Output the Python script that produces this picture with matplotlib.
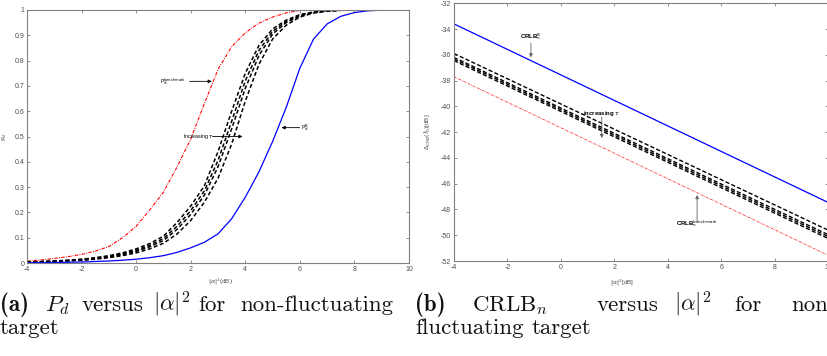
import matplotlib
matplotlib.use("Agg")
import matplotlib.pyplot as plt
from matplotlib.ticker import FuncFormatter
import numpy as np

plt.rcParams["font.family"] = ["Liberation Sans", "DejaVu Sans"]
plt.rcParams["axes.unicode_minus"] = False

# ---- (a) detection probability vs |alpha|^2 [dB] ----
snr_bench = [-4, -3.5, -3, -2.5, -2, -1.5, -1, -0.5, 0, 0.5, 1, 1.5, 2, 2.5,
             3, 3.5, 4, 4.5, 5, 5.5, 6]
pd_bench = [0.008, 0.012, 0.018, 0.025, 0.034, 0.047, 0.065, 0.10, 0.145, 0.21,
            0.28, 0.38, 0.49, 0.63, 0.765, 0.855, 0.91, 0.948, 0.972, 0.989, 0.998]

snr_tau = [-4, -3.5, -3, -2.5, -2, -1.5, -1, -0.5, 0, 0.5, 1, 1.5, 2, 2.5,
           3, 3.5, 4, 4.5, 5, 5.5, 6, 6.5, 7, 7.5]
pd_tau1 = [0.004, 0.006, 0.008, 0.011, 0.015, 0.021, 0.029, 0.040, 0.056, 0.077,
           0.106, 0.16, 0.225, 0.305, 0.44, 0.60, 0.75, 0.86, 0.925, 0.96,
           0.982, 0.992, 0.997, 0.999]
pd_tau2 = [0.004, 0.005, 0.007, 0.010, 0.014, 0.019, 0.026, 0.036, 0.050, 0.070,
           0.097, 0.145, 0.207, 0.285, 0.405, 0.56, 0.72, 0.84, 0.915, 0.955,
           0.979, 0.991, 0.997, 0.999]
pd_tau3 = [0.003, 0.005, 0.007, 0.009, 0.012, 0.017, 0.024, 0.033, 0.046, 0.064,
           0.089, 0.133, 0.192, 0.268, 0.38, 0.53, 0.69, 0.82, 0.905, 0.95,
           0.976, 0.990, 0.996, 0.999]
pd_tau4 = [0.003, 0.004, 0.006, 0.008, 0.011, 0.015, 0.021, 0.029, 0.040, 0.056,
           0.078, 0.115, 0.168, 0.24, 0.335, 0.47, 0.64, 0.785, 0.885, 0.94,
           0.972, 0.988, 0.995, 0.999]

snr_b = [-4, -3.5, -3, -2.5, -2, -1.5, -1, -0.5, 0, 0.5, 1, 1.5, 2, 2.5, 3, 3.5,
         4, 4.5, 5, 5.5, 6, 6.5, 7, 7.5, 8, 8.5, 9, 9.2]
pd_b = [0.001, 0.0015, 0.002, 0.003, 0.004, 0.006, 0.008, 0.011, 0.015, 0.021,
        0.029, 0.042, 0.06, 0.082, 0.115, 0.175, 0.26, 0.36, 0.48, 0.615, 0.77,
        0.885, 0.945, 0.975, 0.99, 0.997, 0.999, 1.0]

# ---- (b) CRLB_n vs |alpha|^2 [dB] ----
snr_crlb = [-4, 10]
crlb_b = [-33.6, -47.45]
crlb_bench = [-37.7, -51.55]
crlb_tau1 = [-35.9, -49.6]
crlb_tau2 = [-36.2, -49.95]
crlb_tau3 = [-36.32, -50.1]
crlb_tau4 = [-36.45, -50.25]

W, H = 828, 356
fig = plt.figure(figsize=(W / 100, H / 100), dpi=100)

axes_grey = "#808080"
label_grey = "#4d4d4d"


def matlab_axes(ax):
    for sp in ax.spines.values():
        sp.set_color(axes_grey)
        sp.set_linewidth(0.8)
    ax.tick_params(direction="in", top=True, right=True, length=2.5, width=0.6,
                   color=axes_grey, labelsize=5, labelcolor=label_grey, pad=2)
    ax.xaxis.set_major_formatter(FuncFormatter(lambda v, p: "%g" % v))
    ax.yaxis.set_major_formatter(FuncFormatter(lambda v, p: "%g" % v))


def arrow(ax, tail, tip, color="k"):
    ax.annotate("", xy=tip, xytext=tail,
                arrowprops=dict(arrowstyle="-|>", lw=0.6, color=color,
                                mutation_scale=5, shrinkA=0, shrinkB=0))


# left panel
ax1 = fig.add_axes([27 / W, 1 - 263 / H, (409 - 27) / W, (263 - 10) / H])
matlab_axes(ax1)
ax1.plot(snr_bench, pd_bench, color="red", lw=0.8,
         linestyle=(0, (3.0, 1.2, 0.8, 1.2)))
for pd in (pd_tau1, pd_tau2, pd_tau3, pd_tau4):
    ax1.plot(snr_tau, pd, color="k", lw=1.1, linestyle=(0, (2.6, 1.6)))
ax1.plot(snr_b, pd_b, color="#0000ff", lw=0.9)
ax1.set_xlim(-4, 10)
ax1.set_ylim(0, 1)
ax1.set_xticks(np.arange(-4, 11, 2))
ax1.set_yticks(np.arange(0, 1.01, 0.1))
ax1.set_xlabel(r"$|\alpha|^2$(dB)", fontsize=4.5, color=label_grey)
ax1.xaxis.set_label_coords(0.505, -0.055)
ax1.set_ylabel(r"$\mathrm{P_d}$", fontsize=4.5, color=label_grey)
ax1.yaxis.set_label_coords(-0.047, 0.5)

ann_font = dict(fontsize=3.8, math_fontfamily="dejavusans")
ax1.text(0.87, 0.716, r"$\mathrm{P}_\mathrm{d}^\mathrm{benchmark}$",
         ha="left", va="center", **ann_font)
arrow(ax1, (1.96, 0.718), (2.77, 0.718))
ax1.text(1.70, 0.50, r"Increasing $\tau$", ha="left", va="center", **ann_font)
arrow(ax1, (2.80, 0.50), (3.90, 0.50))
ax1.text(6.03, 0.535, r"$\mathrm{P}_\mathrm{d}^\mathrm{B}$",
         ha="left", va="center", **ann_font)
arrow(ax1, (5.99, 0.535), (5.33, 0.535))

# right panel
ax2 = fig.add_axes([454 / W, 1 - 261 / H, (828 - 454) / W, (261 - 3.3) / H])
matlab_axes(ax2)
ax2.plot(snr_crlb, crlb_b, color="#0000ff", lw=0.9)
for c in (crlb_tau1, crlb_tau2, crlb_tau3, crlb_tau4):
    ax2.plot(snr_crlb, c, color="k", lw=1.0, linestyle=(0, (3.0, 1.6)))
ax2.plot(snr_crlb, crlb_bench, color="#ff3030", lw=0.6,
         linestyle=(0, (3.0, 1.2, 0.8, 1.2)))
ax2.set_xlim(-4, 10)
ax2.set_ylim(-52, -32)
ax2.set_xticks(np.arange(-4, 11, 2))
ax2.set_yticks(np.arange(-52, -31, 2))
ax2.set_xlabel(r"$|\alpha|^2$[dB]", fontsize=4.5, color=label_grey)
ax2.xaxis.set_label_coords(0.45, -0.066)
ax2.set_ylabel(r"$\Delta_{CRB}(\hat{f}_0)$[dB]", fontsize=4.5, color=label_grey)
ax2.yaxis.set_label_coords(-0.056, 0.5)

ann_bold = dict(fontsize=4.3, math_fontfamily="dejavusans", fontweight="bold")
ax2.text(-1.15, -34.62, r"CRLB$_\mathrm{n}^\mathrm{B}$", ha="center",
         va="center", **ann_bold)
arrow(ax2, (-1.12, -35.1), (-1.12, -36.2), color="#606060")
ax2.text(1.54, -40.52, r"increasing $\tau$", ha="center", va="center", **ann_bold)
arrow(ax2, (1.53, -40.83), (1.53, -42.46), color="#606060")
ax2.text(5.10, -49.13, r"CRLB$_\mathrm{n}^\mathrm{benchmark}$", ha="center",
         va="center", **ann_bold)
arrow(ax2, (5.10, -48.95), (5.10, -46.88), color="#606060")

# sub-figure captions, word by word (justified lines)
cap = dict(fontsize=16.5, fontfamily="cmr10", math_fontfamily="cm",
           va="baseline", ha="left", color="#111111")
cap_bold = dict(cap, fontfamily="cmb10")


def caption_line(words, y_px):
    for text, x_px, bold in words:
        fig.text(x_px / W, 1 - y_px / H, text, **(cap_bold if bold else cap))


caption_line([("(a)", 0, True), (r"$P_d$", 45, False), ("versus", 82, False),
              (r"$|\alpha|^2$", 153, False), ("for", 198, False),
              ("non-fluctuating", 240, False)], 311)
caption_line([("target", 0, False)], 334)
caption_line([("(b)", 415, True), (r"$\mathrm{CRLB}_n$", 472, False),
              ("versus", 597, False), (r"$|\alpha|^2$", 674, False),
              ("for", 734, False), ("non", 791, False)], 311)
caption_line([("fluctuating", 415, False), ("target", 532, False)], 334)

fig.savefig("out.png", dpi=100)
